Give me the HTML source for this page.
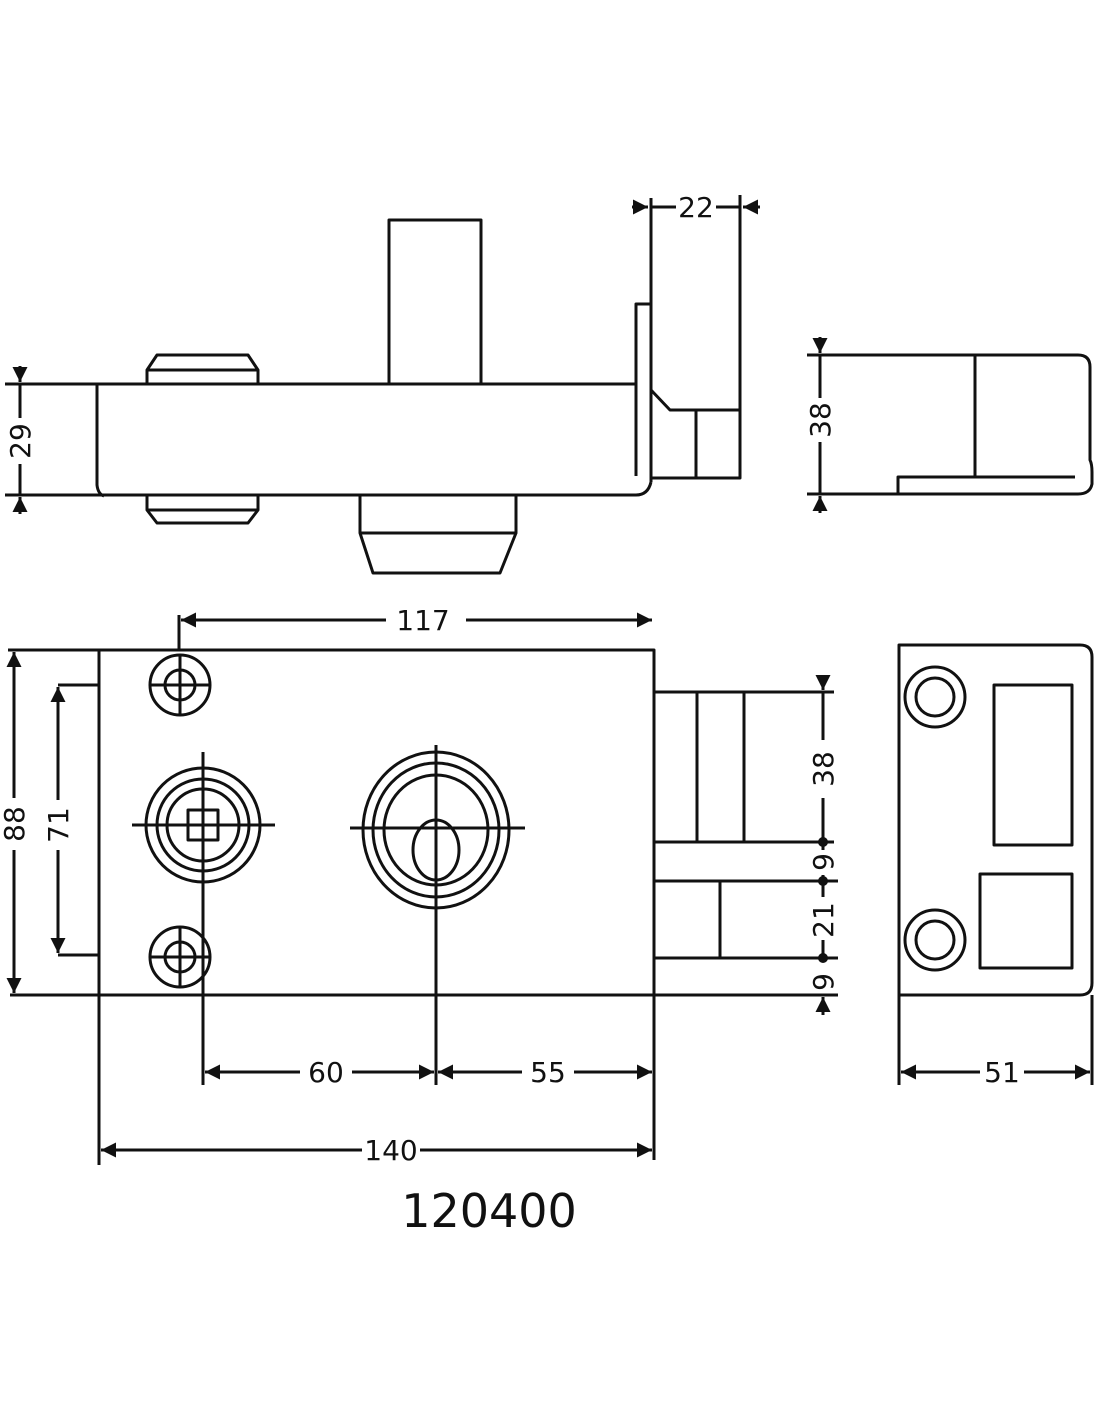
<!DOCTYPE html>
<html><head><meta charset="utf-8"><style>
html,body{margin:0;padding:0;background:#fff}
svg{display:block}
text{font-family:"DejaVu Sans","Liberation Sans",sans-serif;fill:#111}
</style></head><body>
<svg width="1100" height="1422" viewBox="0 0 1100 1422" xmlns="http://www.w3.org/2000/svg">
<defs>
<marker id="a" viewBox="0 0 10 10" refX="10" refY="5" markerWidth="5" markerHeight="5" orient="auto-start-reverse"><path d="M0,0 L10,5 L0,10z" fill="#111"/></marker>
</defs>
<g fill="none" stroke="#111" stroke-width="3" stroke-linejoin="round">
<!-- TOP VIEW -->
<rect x="389" y="220" width="92" height="164"/>
<path d="M147,384 V370 L157,355 H248 L258,370 V384 M147,370 H258"/>
<path d="M147,495 V510 L157,523 H248 L258,510 V495 M147,510 H258"/>
<path d="M360,495 V533 H516 V495 M360,533 L373,573 H500 L516,533"/>
<path d="M5,384 H636 M5,495 H636 Q648,495 651,482"/>
<path d="M97,384 V485 Q98,494 104,496"/>
<path d="M636,476 V304 H651"/>
<path d="M651,198 V482"/>
<path d="M651,390 L670,410 H740 M740,195 V478 H651 M696,410 V478"/>
<line x1="632" y1="207" x2="648" y2="207" marker-end="url(#a)"/>
<line x1="651" y1="207" x2="676" y2="207"/>
<line x1="716" y1="207" x2="740" y2="207"/>
<line x1="760" y1="207" x2="743" y2="207" marker-end="url(#a)"/>
<line x1="20" y1="366" x2="20" y2="382" marker-end="url(#a)"/>
<line x1="20" y1="384" x2="20" y2="418"/>
<line x1="20" y1="464" x2="20" y2="495"/>
<line x1="20" y1="514" x2="20" y2="497" marker-end="url(#a)"/>
<!-- side view top right -->
<path d="M807,355 H1078 Q1090,355 1090,367 V460 Q1092,464 1092,472 V484 Q1090,494 1078,494 H807"/>
<path d="M975,355 V477 M898,494 V477 H1075"/>
<line x1="820" y1="337" x2="820" y2="353" marker-end="url(#a)"/>
<line x1="820" y1="355" x2="820" y2="398"/>
<line x1="820" y1="442" x2="820" y2="494"/>
<line x1="820" y1="513" x2="820" y2="496" marker-end="url(#a)"/>
<!-- FRONT VIEW -->
<path d="M8,650 H654 V1160 M99,650 V1165 M10,995 H838"/>
<path d="M99,685 H58 M99,955 H58"/>
<line x1="14" y1="690" x2="14" y2="652" marker-end="url(#a)" />
<line x1="14" y1="690" x2="14" y2="798"/>
<line x1="14" y1="850" x2="14" y2="960"/>
<line x1="14" y1="960" x2="14" y2="993" marker-end="url(#a)"/>
<line x1="58" y1="720" x2="58" y2="687" marker-end="url(#a)"/>
<line x1="58" y1="720" x2="58" y2="800"/>
<line x1="58" y1="850" x2="58" y2="920"/>
<line x1="58" y1="920" x2="58" y2="953" marker-end="url(#a)"/>
<path d="M179,615 V650"/>
<line x1="300" y1="620" x2="181" y2="620" marker-end="url(#a)"/>
<line x1="300" y1="620" x2="386" y2="620"/>
<line x1="466" y1="620" x2="560" y2="620"/>
<line x1="560" y1="620" x2="652" y2="620" marker-end="url(#a)"/>
<!-- screws -->
<circle cx="180" cy="685" r="30"/><circle cx="180" cy="685" r="15"/>
<path d="M150,685 H210 M180,655 V715"/>
<circle cx="180" cy="957" r="30"/><circle cx="180" cy="957" r="15"/>
<path d="M150,957 H210 M180,927 V987"/>
<!-- spindle -->
<circle cx="203" cy="825" r="57"/><circle cx="203" cy="825" r="46"/><circle cx="203" cy="825" r="36"/>
<rect x="188" y="810" width="30" height="30"/>
<path d="M132,825 H275 M203,752 V1085"/>
<!-- cylinder -->
<ellipse cx="436" cy="830" rx="73" ry="78"/><ellipse cx="436" cy="830" rx="63" ry="67"/><ellipse cx="436" cy="830" rx="52" ry="55"/>
<ellipse cx="436" cy="850" rx="23" ry="30"/>
<path d="M350,828 H525 M436,745 V1085"/>
<!-- bolts right -->
<path d="M654,692 H834 M654,842 H834 M697,692 V842 M744,692 V842"/>
<path d="M654,881 H838 M654,958 H838 M720,881 V958"/>
<line x1="823" y1="676" x2="823" y2="690" marker-end="url(#a)"/>
<line x1="823" y1="692" x2="823" y2="740"/>
<line x1="823" y1="798" x2="823" y2="842"/>
<line x1="823" y1="842" x2="823" y2="850"/>
<line x1="823" y1="875" x2="823" y2="897"/>
<line x1="823" y1="940" x2="823" y2="958"/>
<line x1="823" y1="1015" x2="823" y2="997" marker-end="url(#a)"/>
<!-- 60 55 140 -->
<line x1="260" y1="1072" x2="205" y2="1072" marker-end="url(#a)"/>
<line x1="260" y1="1072" x2="300" y2="1072"/>
<line x1="352" y1="1072" x2="390" y2="1072"/>
<line x1="390" y1="1072" x2="434" y2="1072" marker-end="url(#a)"/>
<line x1="480" y1="1072" x2="438" y2="1072" marker-end="url(#a)"/>
<line x1="480" y1="1072" x2="522" y2="1072"/>
<line x1="574" y1="1072" x2="610" y2="1072"/>
<line x1="610" y1="1072" x2="652" y2="1072" marker-end="url(#a)"/>
<line x1="150" y1="1150" x2="101" y2="1150" marker-end="url(#a)"/>
<line x1="150" y1="1150" x2="362" y2="1150"/>
<line x1="420" y1="1150" x2="610" y2="1150"/>
<line x1="610" y1="1150" x2="652" y2="1150" marker-end="url(#a)"/>
<!-- strike plate -->
<path d="M899,645 H1080 Q1092,645 1092,657 V983 Q1092,995 1080,995 H899 Z"/>
<path d="M899,995 V1085 M1092,995 V1085"/>
<circle cx="935" cy="697" r="30"/><circle cx="935" cy="697" r="19"/>
<circle cx="935" cy="940" r="30"/><circle cx="935" cy="940" r="19"/>
<rect x="994" y="685" width="78" height="160"/>
<rect x="980" y="874" width="92" height="94"/>
<line x1="940" y1="1072" x2="901" y2="1072" marker-end="url(#a)"/>
<line x1="940" y1="1072" x2="980" y2="1072"/>
<line x1="1024" y1="1072" x2="1050" y2="1072"/>
<line x1="1050" y1="1072" x2="1090" y2="1072" marker-end="url(#a)"/>
</g>
<g fill="#111">
<circle cx="823" cy="842" r="5"/><circle cx="823" cy="881" r="5"/><circle cx="823" cy="958" r="5"/>
</g>
<g font-size="28" text-anchor="middle">
<text x="696" y="217">22</text>
<text x="423" y="630">117</text>
<text x="326" y="1082">60</text>
<text x="548" y="1082">55</text>
<text x="391" y="1160">140</text>
<text x="1002" y="1082">51</text>
<text transform="translate(30,441) rotate(-90)">29</text>
<text transform="translate(830,420) rotate(-90)">38</text>
<text transform="translate(24,824) rotate(-90)">88</text>
<text transform="translate(68,825) rotate(-90)">71</text>
<text transform="translate(833,769) rotate(-90)">38</text>
<text transform="translate(833,862) rotate(-90)">9</text>
<text transform="translate(833,920) rotate(-90)">21</text>
<text transform="translate(833,982) rotate(-90)">9</text>
</g>
<text x="489" y="1227" font-size="46" text-anchor="middle">120400</text>
</svg>
</body></html>
